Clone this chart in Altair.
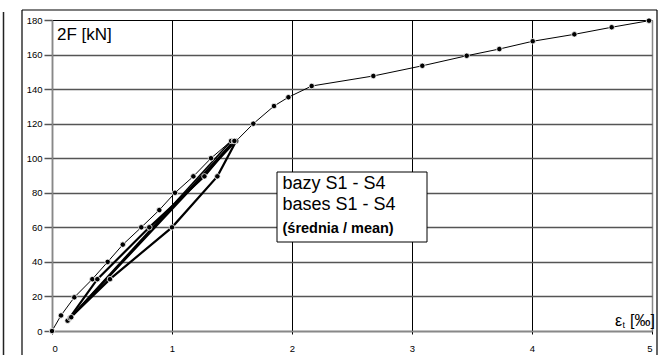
import altair as alt
import pandas as pd

# ---- data ----
env_x = [0.0, 0.075, 0.186, 0.336, 0.464, 0.59, 0.744, 0.894, 1.025, 1.178, 1.325, 1.493]
env_y = [0, 9, 19.5, 30, 40, 50, 60, 70, 80, 89.5, 100, 110]
unl1_x = [1.493, 0.13]
unl1_y = [110, 6]
rel1_x = [0.13, 0.378, 0.811, 1.27, 1.515]
rel1_y = [6, 30, 60, 89.5, 110]
unl2_x = [1.515, 0.15]
unl2_y = [110, 7.5]
rel2_x = [0.15, 0.483, 1.0, 1.378, 1.535]
rel2_y = [7.5, 30, 60, 89.5, 110]
unl3_x = [1.535, 0.16]
unl3_y = [110, 8]
rel3_x = [0.16, 1.52]
rel3_y = [8, 110]
fin_x = [1.535, 1.678, 1.85, 1.97, 2.164, 2.678, 3.086, 3.456, 3.728, 4.006, 4.353, 4.664, 4.975]
fin_y = [110, 120, 130.2, 135.3, 141.8, 147.6, 153.5, 159.3, 163.2, 167.7, 171.7, 175.8, 179.6]

x_ticks = [0, 1, 2, 3, 4, 5]
y_ticks = [0, 20, 40, 60, 80, 100, 120, 140, 160, 180]

segments = [
    ("env", "loading", env_x, env_y),
    ("u1", "unloading", unl1_x, unl1_y),
    ("r1", "reloading", rel1_x, rel1_y),
    ("u2", "unloading", unl2_x, unl2_y),
    ("r2", "reloading", rel2_x, rel2_y),
    ("u3", "unloading", unl3_x, unl3_y),
    ("r3", "unloading", rel3_x, rel3_y),
    ("fin", "loading", fin_x, fin_y),
]
rows = []
for name, kind, xs, ys in segments:
    for i, (a, b) in enumerate(zip(xs, ys)):
        rows.append({"seg": name, "kind": kind, "ord": i, "x": a, "y": b})
df = pd.DataFrame(rows)
pts = df.drop_duplicates(subset=["x", "y"])

FONT = "Liberation Sans"

xs = alt.X("x:Q", scale=alt.Scale(domain=[0, 5], nice=False, zero=False),
           axis=alt.Axis(values=x_ticks, format="d", title=None, labelFontSize=9.5,
                         labelFont=FONT, labelColor="black", tickSize=3, tickColor="black",
                         labelPadding=9, domainColor="#888", domainWidth=1.5, labelOverlap=False,
                         gridColor={"condition": {"test": "datum.value === 0 || datum.value === 5", "value": "#888"}, "value": "black"},
                         gridWidth={"condition": {"test": "datum.value === 0 || datum.value === 5", "value": 1.5}, "value": 1}))
ys = alt.Y("y:Q", scale=alt.Scale(domain=[0, 180], nice=False),
           axis=alt.Axis(values=y_ticks, title=None, labelFontSize=9.5, labelFont=FONT,
                         labelColor="black", tickSize=8, tickColor="#555", tickWidth=1.5,
                         labelPadding=2, domainColor="#888", domainWidth=1.5, labelOverlap=False,
                         gridColor={"condition": {"test": "datum.value === 180", "value": "black"}, "value": "#555"},
                         gridWidth={"condition": {"test": "datum.value === 180", "value": 1}, "value": 1.5}))

lines = alt.Chart(df).mark_line(color="black").encode(
    x=xs, y=ys, detail="seg:N", order="ord:Q",
    strokeWidth=alt.StrokeWidth("kind:N", scale=alt.Scale(domain=["loading", "unloading", "reloading"], range=[1, 2.2, 1.4]), legend=None),
)
dots = alt.Chart(pts).mark_point(filled=True, fill="black", stroke="white", strokeWidth=0.8, size=30, opacity=1).encode(
    x=xs, y=ys)

# frame and decorations (pixel positions relative to plot area)
frame_top = alt.Chart(pd.DataFrame({"a": [0]})).mark_rule(color="black", strokeWidth=1.2).encode(
    x=alt.value(-30), x2=alt.value(605), y=alt.value(-10))
frame_left = alt.Chart(pd.DataFrame({"a": [0]})).mark_rule(color="black", strokeWidth=1.2).encode(
    x=alt.value(-30), y=alt.value(-10), y2=alt.value(340))
frame_right = alt.Chart(pd.DataFrame({"a": [0]})).mark_rule(color="black", strokeWidth=1.2).encode(
    x=alt.value(605), y=alt.value(-10), y2=alt.value(340))
edge_line = alt.Chart(pd.DataFrame({"a": [0]})).mark_rule(color="#222", strokeWidth=1.5).encode(
    x=alt.value(-48.5), y=alt.value(-8), y2=alt.value(340))

box = alt.Chart(pd.DataFrame({"a": [0]})).mark_rect(fill="white", stroke="black", strokeWidth=1).encode(
    x=alt.value(225), x2=alt.value(375), y=alt.value(152), y2=alt.value(222))

def txt(s, x, y, size, weight="normal", align="left"):
    return alt.Chart(pd.DataFrame({"t": [s]})).mark_text(
        align=align, baseline="alphabetic", font=FONT, fontSize=size, fontWeight=weight, color="black"
    ).encode(text="t:N", x=alt.value(x), y=alt.value(y))

t_title = txt("2F [kN]", 5, 19.5, 17)
t1 = txt("bazy S1 - S4", 230.5, 168.5, 18)
t2 = txt("bases S1 - S4", 230.5, 189.5, 18)
t3 = txt("(średnia / mean)", 230.5, 212.5, 14.5, weight="bold")
t_eps = txt("ε", 563, 306, 16)
t_sub = txt("t", 570.5, 307.5, 9)
t_unit = txt("[‰]", 578, 306, 16)

chart = alt.layer(
    lines, dots, box, t1, t2, t3, t_title, t_eps, t_sub, t_unit,
    frame_top, frame_left, frame_right, edge_line,
).properties(
    width=600, height=311,
    autosize=alt.AutoSizeParams(type="none"),
    padding={"left": 52, "top": 20, "right": 7, "bottom": 24},
    background="white",
).configure_view(stroke=None).configure_axis(labelOverlap=False)

chart.save("out.html", embed_options={"renderer": "svg", "actions": False})
